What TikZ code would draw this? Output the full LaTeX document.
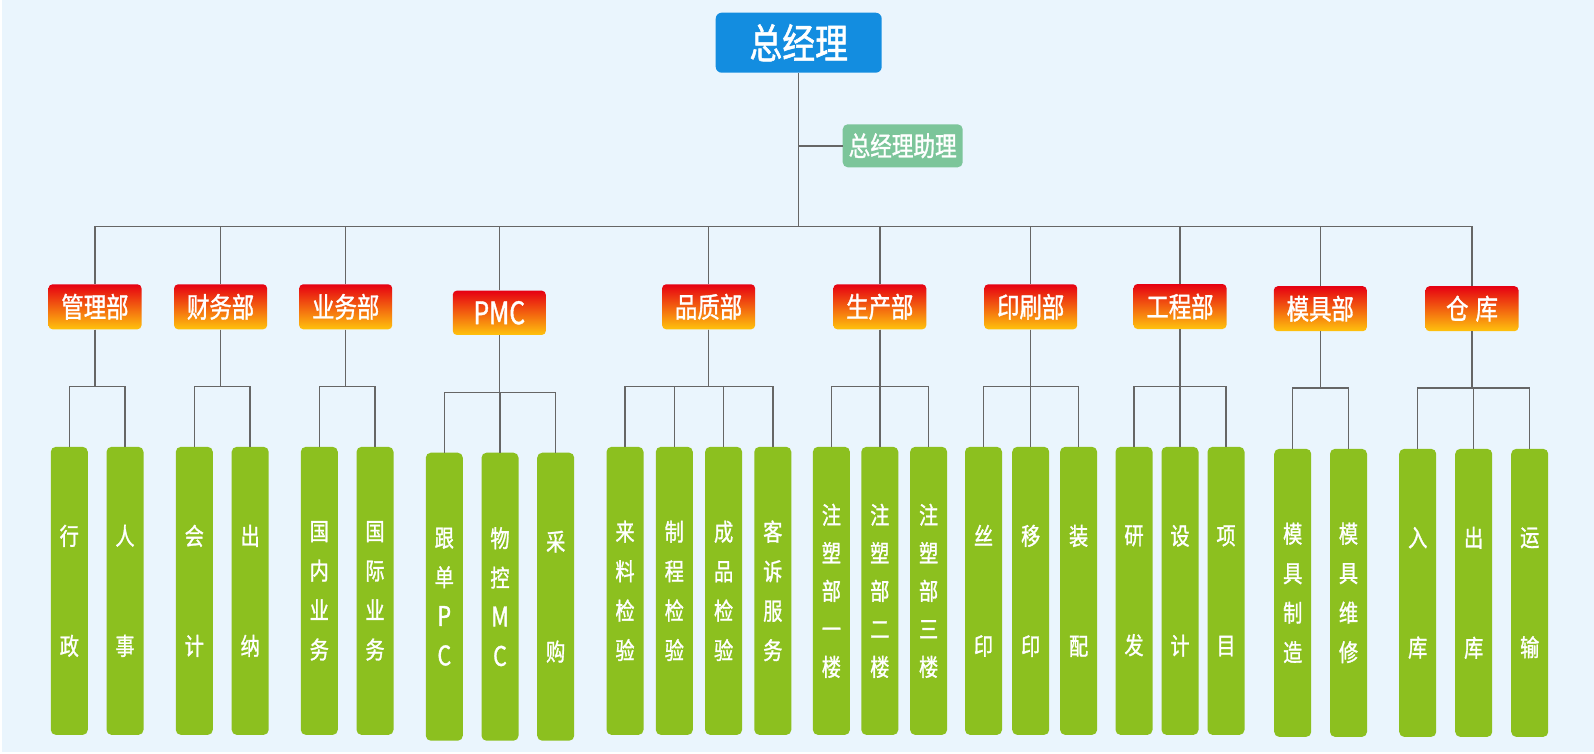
\documentclass[tikz,border=0pt]{standalone}
\usepackage{fontspec}
\newfontfamily\cjk[FakeStretch=0.8,FakeBold=1.2]{Noto Sans CJK SC}
\definecolor{bgblue}{HTML}{EAF5FD}
\definecolor{ceoblue}{HTML}{138DE0}
\definecolor{asstgreen}{HTML}{7CC59A}
\definecolor{leafgreen}{HTML}{8CC01F}
\definecolor{deptred}{HTML}{E60012}
\definecolor{deptorange}{HTML}{F26A10}
\definecolor{deptyellow}{HTML}{FFC30D}
\definecolor{linegray}{HTML}{666666}
\newcommand{\leafletter}[1]{{\fontsize{27}{39.5}\selectfont #1}}
\begin{document}
\begin{tikzpicture}[x=1pt,y=-1pt,
  conn/.style={draw=linegray,line width=1.5pt},
  ceo/.style={fill=ceoblue,rounded corners=6pt,minimum width=166pt,minimum height=60pt,inner sep=0pt,text=white,font=\cjk\fontsize{41}{48}\selectfont},
  asst/.style={fill=asstgreen,rounded corners=5pt,minimum width=120pt,minimum height=43pt,inner sep=0pt,text=white,font=\cjk\fontsize{27}{32}\selectfont},
  dept/.style={top color=deptred,middle color=deptorange,bottom color=deptyellow,rounded corners=4pt,minimum width=93pt,minimum height=45pt,inner sep=0pt,text=white,font=\cjk\fontsize{28}{32}\selectfont},
  leaf/.style={fill=leafgreen,rounded corners=5pt,minimum width=37pt,minimum height=288pt,inner sep=0pt,text=white,align=center,font=\cjk\fontsize{24}{39.5}\selectfont},
  leaf5/.style={leaf,font=\cjk\fontsize{24}{38}\selectfont}
]
\useasboundingbox (0,0) rectangle (1594,753);
\fill[white] (0,0) rectangle (1594,753);
\fill[bgblue] (1.5,0) rectangle (1594,751.5);

\coordinate (mb) at (0,226.5);
\coordinate (sb) at (0,386.7);
\coordinate (sbp) at (0,392.7);
\coordinate (sbm) at (0,388);

% top
\node[ceo] (ceo) at (798.7,42.7) {总经理};
\node[asst] (asst) at (902.7,145.8) {总经理助理};

% departments
\node[dept] (d1) at (95,306.8) {管理部};
\node[dept] (d2) at (220.6,306.8) {财务部};
\node[dept] (d3) at (345.7,306.8) {业务部};
\node[dept,minimum height=44.3pt,font=\cjk\fontsize{31}{36}\selectfont] (d4) at (499.3,312.8) {PMC};
\node[dept] (d5) at (708.6,306.8) {品质部};
\node[dept] (d6) at (879.8,306.8) {生产部};
\node[dept] (d7) at (1030.7,306.8) {印刷部};
\node[dept] (d8) at (1180,306.5) {工程部};
\node[dept] (d9) at (1320.3,308.7) {模具部};
\node[dept] (d10) at (1472,308.7) {仓\hspace{7pt}库};

% leaves
\node[leaf] (l1a) at (69.3,590.85) {行\\[70.5pt]政};
\node[leaf] (l1b) at (125,590.85) {人\\[70.5pt]事};
\node[leaf] (l2a) at (194.3,590.85) {会\\[70.5pt]计};
\node[leaf] (l2b) at (250.2,590.85) {出\\[70.5pt]纳};
\node[leaf] (l3a) at (319.3,590.85) {国\\内\\业\\务};
\node[leaf] (l3b) at (375,590.85) {国\\际\\业\\务};
\node[leaf] (l4a) at (444.3,596.7) {跟\\单\\\leafletter{P}\\\leafletter{C}};
\node[leaf] (l4b) at (500,596.7) {物\\控\\\leafletter{M}\\\leafletter{C}};
\node[leaf] (l4c) at (555.7,596.7) {采\\[70.5pt]购};
\node[leaf] (l5a) at (625,590.85) {来\\料\\检\\验};
\node[leaf] (l5b) at (674.3,590.85) {制\\程\\检\\验};
\node[leaf] (l5c) at (723.6,590.85) {成\\品\\检\\验};
\node[leaf] (l5d) at (772.8,590.85) {客\\诉\\服\\务};
\node[leaf5] (l6a) at (831.4,590.85) {注\\塑\\部\\一\\楼};
\node[leaf5] (l6b) at (879.8,590.85) {注\\塑\\部\\二\\楼};
\node[leaf5] (l6c) at (928.6,590.85) {注\\塑\\部\\三\\楼};
\node[leaf] (l7a) at (983.5,590.85) {丝\\[70.5pt]印};
\node[leaf] (l7b) at (1030.7,590.85) {移\\[70.5pt]印};
\node[leaf] (l7c) at (1078.6,590.85) {装\\[70.5pt]配};
\node[leaf] (l8a) at (1134,590.85) {研\\[70.5pt]发};
\node[leaf] (l8b) at (1180,590.85) {设\\[70.5pt]计};
\node[leaf] (l8c) at (1226,590.85) {项\\[70.5pt]目};
\node[leaf] (l9a) at (1292.7,592.85) {模\\具\\制\\造};
\node[leaf] (l9b) at (1348.5,592.85) {模\\具\\维\\修};
\node[leaf] (l10a) at (1417.7,592.85) {入\\[70.5pt]库};
\node[leaf] (l10b) at (1473.7,592.85) {出\\[70.5pt]库};
\node[leaf] (l10c) at (1529.7,592.85) {运\\[70.5pt]输};

% connectors: top
\draw[conn] (ceo.south) -- (ceo.south |- mb);
\draw[conn] (ceo.south |- asst.west) -- (asst.west);
\draw[conn] (d1.north) -- (d1.north |- mb) -- (d10.north |- mb) -- (d10.north);
\foreach \d in {d2,d3,d4,d5,d6,d7,d8,d9}
  \draw[conn] (\d.north) -- (\d.north |- mb);

% connectors: departments to leaves
\foreach \l in {l1a,l1b} \draw[conn] (d1.south) |- (\l.north |- sb) -- (\l.north);
\foreach \l in {l2a,l2b} \draw[conn] (d2.south) |- (\l.north |- sb) -- (\l.north);
\foreach \l in {l3a,l3b} \draw[conn] (d3.south) |- (\l.north |- sb) -- (\l.north);
\foreach \l in {l4a,l4b,l4c} \draw[conn] (d4.south) |- (\l.north |- sbp) -- (\l.north);
\foreach \l in {l5a,l5b,l5c,l5d} \draw[conn] (d5.south) |- (\l.north |- sb) -- (\l.north);
\foreach \l in {l6a,l6b,l6c} \draw[conn] (d6.south) |- (\l.north |- sb) -- (\l.north);
\foreach \l in {l7a,l7b,l7c} \draw[conn] (d7.south) |- (\l.north |- sb) -- (\l.north);
\foreach \l in {l8a,l8b,l8c} \draw[conn] (d8.south) |- (\l.north |- sb) -- (\l.north);
\foreach \l in {l9a,l9b} \draw[conn] (d9.south) |- (\l.north |- sbm) -- (\l.north);
\foreach \l in {l10a,l10b,l10c} \draw[conn] (d10.south) |- (\l.north |- sbm) -- (\l.north);
\end{tikzpicture}
\end{document}
